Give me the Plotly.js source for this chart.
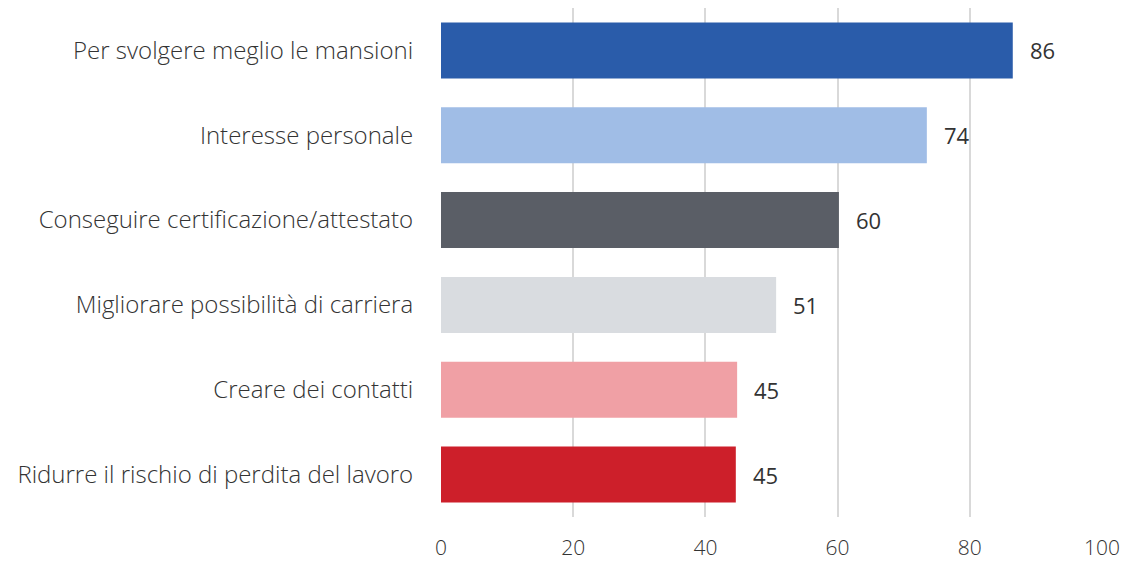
<!DOCTYPE html>
<html><head><meta charset="utf-8">
<script src="https://cdn.plot.ly/plotly-3.0.1.min.js"></script>
<style>html,body{margin:0;padding:0;background:#fff}#chart{width:1124px;height:562px}</style>
</head><body><div id="chart"></div>
<script>
var categories = ["Per svolgere meglio le mansioni","Interesse personale","Conseguire certificazione/attestato","Migliorare possibilità di carriera","Creare dei contatti","Ridurre il rischio di perdita del lavoro"];
var values = [86.5, 73.5, 60.2, 50.7, 44.8, 44.6];
var labels = ["86","74","60","51","45","45"];
var colors = ["#2A5CAA","#A0BDE6","#5A5E66","#D9DCE0","#F0A0A5","#CD1F2A"];
var xTicks = [0,20,40,60,80,100];

var FONT = "'Open Sans', Lato, sans-serif";
var trace = {
  type: "bar", orientation: "h",
  y: categories, x: values,
  marker: {color: colors},
  width: 0.66,
  hoverinfo: "none"
};
var annotations = categories.map(function(c,i){
  return {x: values[i], y: c, text: labels[i], showarrow: false, xanchor: "left", xshift: 15,
          font: {family: FONT, size: 22, color: "#333", weight: 400}};
});
var layout = {
  width: 1124, height: 562,
  margin: {l: 441, r: 22, t: 8, b: 45},
  paper_bgcolor: "#fff", plot_bgcolor: "#fff",
  showlegend: false,
  font: {family: FONT, color: "#333"},
  xaxis: {range: [0, 100], tickvals: xTicks, ticktext: xTicks.map(String),
          showgrid: true, gridcolor: "#D9D9D9", gridwidth: 2, zeroline: false, showline: false,
          ticks: "outside", ticklen: 12, tickcolor: "rgba(0,0,0,0)",
          tickfont: {family: FONT, size: 21, color: "#333", weight: 300}, fixedrange: true},
  yaxis: {autorange: "reversed", type: "category", showgrid: false, zeroline: false, showline: false,
          ticks: "outside", ticklen: 22, tickcolor: "rgba(0,0,0,0)",
          tickfont: {family: FONT, size: 24, color: "#333", weight: 300}, fixedrange: true},
  annotations: annotations,
  bargap: 0.34
};
Plotly.newPlot("chart", [trace], layout, {displayModeBar: false, staticPlot: true});
</script></body></html>
